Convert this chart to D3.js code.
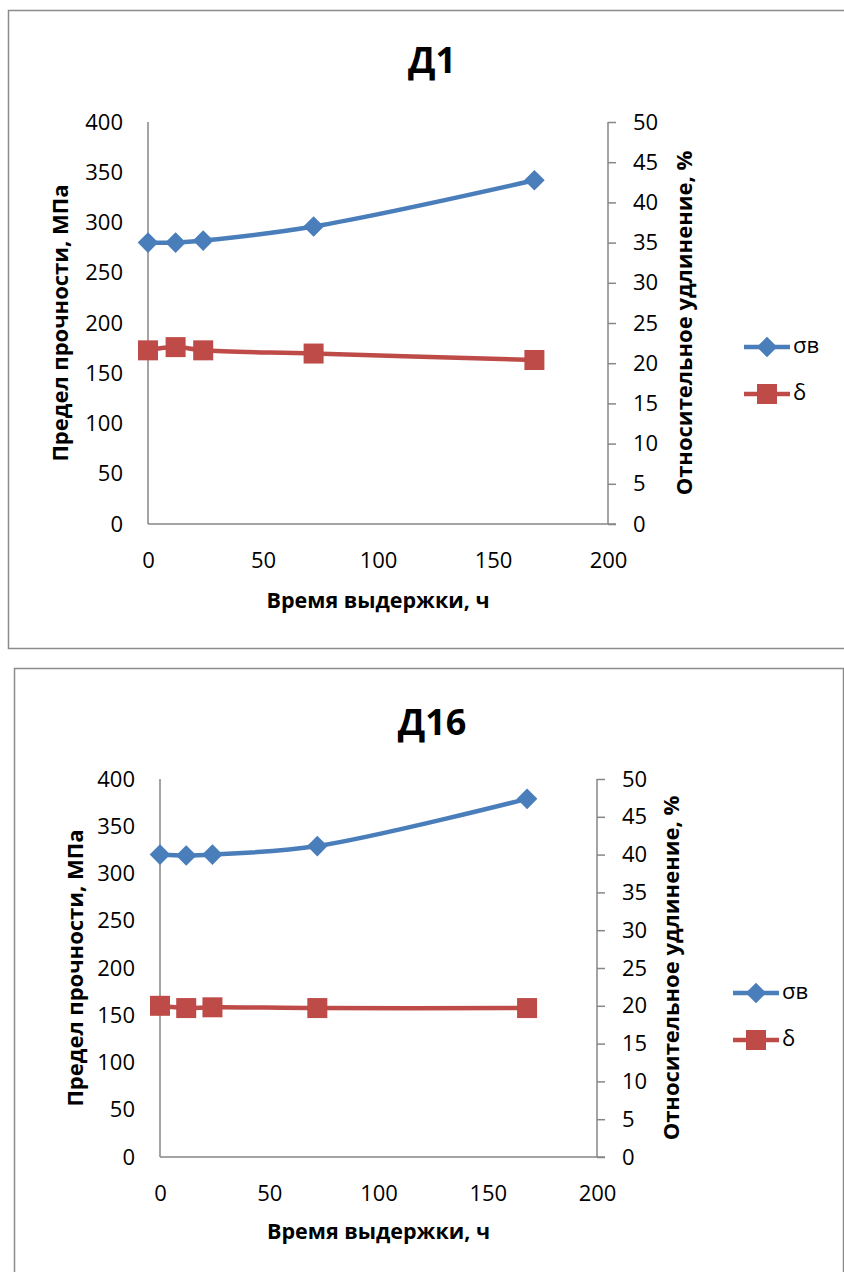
<!DOCTYPE html>
<html><head><meta charset="utf-8">
<script src="https://cdn.jsdelivr.net/npm/d3@7"></script>
<style>
html,body{margin:0;padding:0;background:#fff;}
svg{display:block;}
text{font-family:"Open Sans",sans-serif;fill:#000;}
</style></head>
<body>
<svg id="c" width="844" height="1272"></svg>
<script>
// ---- data ----
const hours = [0, 12, 24, 72, 168];
const d1Strength = [280, 280, 282, 296, 342];
const d1Elong = [21.6, 22.0, 21.6, 21.2, 20.4];
const d16Strength = [320, 319, 320, 329, 379];
const d16Elong = [20.0, 19.7, 19.8, 19.7, 19.7];
const xTicks = [0, 50, 100, 150, 200];
const leftTicks = [0, 50, 100, 150, 200, 250, 300, 350, 400];
const rightTicks = [0, 5, 10, 15, 20, 25, 30, 35, 40, 45, 50];
const titles = ["Д1", "Д16"];
const seriesNames = ["σв", "δ"];
const xTitle = "Время выдержки, ч";
const leftTitle = "Предел прочности, МПа";
const rightTitle = "Относительное удлинение, %";

const BLUE = "#4a7ebb", RED = "#be4b48", AXIS = "#868686";
const svg = d3.select("#c");

const layouts = [
  {box:[8,10,850,638], L:148, R:608, T:122, B:524, titleX:432, titleY:73,
   xLabY:560, xTitleY:602, lTitleX:62, rTitleX:686, legX:744, legY:[347,394]},
  {box:[14,668,829,620], L:160, R:597, T:779, B:1157, titleX:432, titleY:735,
   xLabY:1194, xTitleY:1233, lTitleX:77, rTitleX:673, legX:733, legY:[993,1040]}
];
const data = [[d1Strength, d1Elong],[d16Strength, d16Elong]];

layouts.forEach((lay, i) => {
  const g = svg.append("g");
  g.append("rect").attr("x", lay.box[0]+0.5).attr("y", lay.box[1]+0.5)
    .attr("width", lay.box[2]).attr("height", lay.box[3])
    .attr("fill", "none").attr("stroke", "#8c8c8c").attr("stroke-width", 1.5);

  const x = d3.scaleLinear().domain([0, 200]).range([lay.L, lay.R]);
  const yL = d3.scaleLinear().domain([0, 400]).range([lay.B, lay.T]);
  const yR = d3.scaleLinear().domain([0, 50]).range([lay.B, lay.T]);

  // title
  g.append("text").attr("x", lay.titleX).attr("y", lay.titleY)
    .attr("text-anchor", "middle").style("font-size", "36px").style("font-weight", "bold")
    .text(titles[i]);

  // axes
  const la = g.append("g").attr("transform", `translate(${lay.L},0)`)
    .call(d3.axisLeft(yL).tickValues(leftTicks).tickSize(0).tickPadding(25));
  const ra = g.append("g").attr("transform", `translate(${lay.R},0)`)
    .call(d3.axisRight(yR).tickValues(rightTicks).tickSize(8).tickPadding(17));
  const ba = g.append("g").attr("transform", `translate(0,${lay.B})`)
    .call(d3.axisBottom(x).tickValues(xTicks).tickSize(0).tickPadding(28));
  [la, ra, ba].forEach(a => {
    a.select(".domain").attr("stroke", AXIS).attr("stroke-width", 1.5);
    a.selectAll(".tick line").attr("stroke", AXIS).attr("stroke-width", 1.5);
    a.selectAll("text").style("font-family", '"Open Sans",sans-serif').style("font-size", "22px").attr("fill", "#000");
  });
  ba.select(".domain").attr("d", `M${lay.L},0H${lay.R + 8}`);
  la.select(".domain").attr("d", `M0,${lay.T}V${lay.B}`);
  ra.select(".domain").attr("d", `M0,${lay.T}V${lay.B}`);

  // axis titles
  g.append("text").attr("x", (lay.L + lay.R) / 2).attr("y", lay.xTitleY)
    .attr("text-anchor", "middle").attr("dominant-baseline", "middle")
    .style("font-size", "21.5px").style("font-weight", "bold").text(xTitle);
  g.append("text").attr("transform", `translate(${lay.lTitleX},${(lay.T + lay.B) / 2}) rotate(-90)`)
    .attr("text-anchor", "middle").attr("dominant-baseline", "middle")
    .style("font-size", "22px").style("font-weight", "bold").text(leftTitle);
  g.append("text").attr("transform", `translate(${lay.rTitleX},${(lay.T + lay.B) / 2}) rotate(-90)`)
    .attr("text-anchor", "middle").attr("dominant-baseline", "middle")
    .style("font-size", "22px").style("font-weight", "bold").text(rightTitle);

  // series
  const curve = d3.curveCatmullRom.alpha(0.5);
  const s1 = hours.map((h, k) => [x(h), yL(data[i][0][k])]);
  const s2 = hours.map((h, k) => [x(h), yR(data[i][1][k])]);
  const line = d3.line().curve(curve);
  g.append("path").attr("d", line(s1)).attr("fill", "none").attr("stroke", BLUE).attr("stroke-width", 4.5);
  g.append("path").attr("d", line(s2)).attr("fill", "none").attr("stroke", RED).attr("stroke-width", 4.5);
  g.selectAll(".dia").data(s1).join("path")
    .attr("d", d3.symbol(d3.symbolDiamond2, 270)())
    .attr("transform", d => `translate(${d[0]},${d[1]})`).attr("fill", BLUE);
  g.selectAll(".sq").data(s2).join("rect")
    .attr("x", d => d[0] - 10).attr("y", d => d[1] - 10).attr("width", 20).attr("height", 20)
    .attr("fill", RED);

  // legend
  seriesNames.forEach((nm, k) => {
    const ly = lay.legY[k], col = k === 0 ? BLUE : RED;
    g.append("line").attr("x1", lay.legX).attr("x2", lay.legX + 46).attr("y1", ly).attr("y2", ly)
      .attr("stroke", col).attr("stroke-width", 4.5);
    if (k === 0) {
      g.append("path").attr("d", d3.symbol(d3.symbolDiamond2, 270)())
        .attr("transform", `translate(${lay.legX + 23},${ly})`).attr("fill", col);
    } else {
      g.append("rect").attr("x", lay.legX + 13).attr("y", ly - 10).attr("width", 20).attr("height", 20).attr("fill", col);
    }
    g.append("text").attr("x", lay.legX + 49).attr("y", ly).attr("dominant-baseline", "middle")
      .style("font-size", "22px").text(nm);
  });
});
</script>
</body></html>
